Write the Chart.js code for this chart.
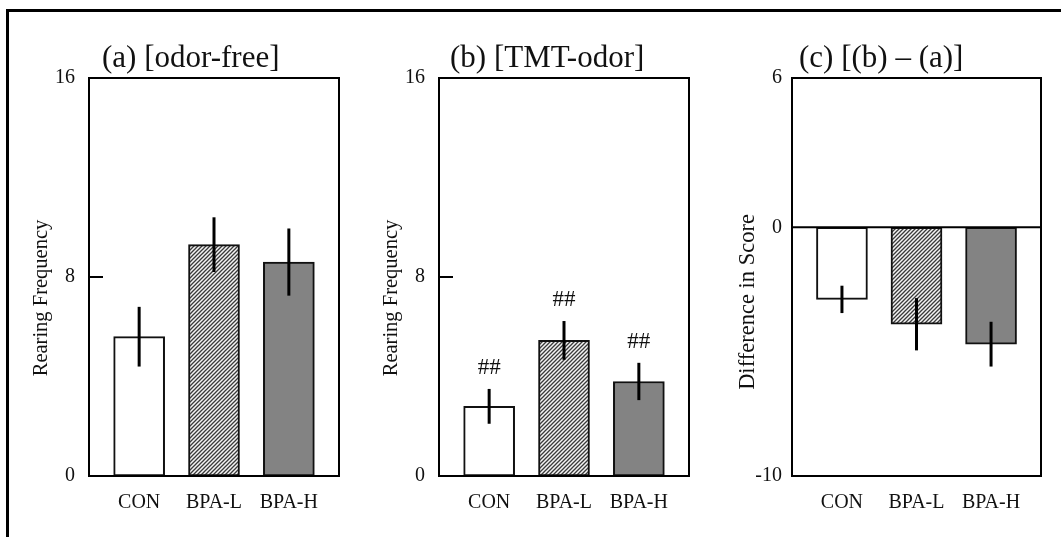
<!DOCTYPE html>
<html><head><meta charset="utf-8">
<script src="https://cdn.jsdelivr.net/npm/chart.js@4.4.1/dist/chart.umd.min.js"></script>
<style>
html,body{margin:0;padding:0;background:#fff;}
#wrap{position:relative;width:1061px;height:537px;overflow:hidden;background:#fff;}
#frame{position:absolute;left:6px;top:9px;width:1200px;height:700px;border-left:3px solid #000;border-top:3px solid #000;}
canvas{position:absolute;left:0;top:0;}
</style></head><body>
<div id="wrap"><div id="frame"></div>
<canvas id="ca" width="1061" height="537"></canvas>
<canvas id="cb" width="1061" height="537"></canvas>
<canvas id="cc" width="1061" height="537"></canvas>
</div>
<script>
const categories = ['CON', 'BPA-L', 'BPA-H'];
const odorFree = [5.6, 9.3, 8.6];
const odorFreeErr = [1.2, 1.1, 1.35];
const tmtOdor = [2.8, 5.45, 3.8];
const tmtOdorErr = [0.7, 0.78, 0.75];
const diffScore = [-2.9, -3.9, -4.7];
const diffScoreErr = [0.55, 1.05, 0.9];
const marksB = ['##', '##', '##'];
const ticksRearing = [0, 8, 16];
const ticksDiff = [-10, 0, 6];
const panelTitles = ['(a) [odor-free]', '(b) [TMT-odor]', '(c) [(b) \u2013 (a)]'];
const yTitles = ['Rearing Frequency', 'Rearing Frequency', 'Difference in Score'];

const SERIF = '"Liberation Serif", "Times New Roman", serif';

function hatch() {
  const c = document.createElement('canvas');
  c.width = 4; c.height = 4;
  const g = c.getContext('2d');
  g.fillStyle = '#f4f4f4'; g.fillRect(0, 0, 4, 4);
  g.strokeStyle = '#3a3a3a'; g.lineWidth = 1.3;
  g.beginPath();
  g.moveTo(-1, 5); g.lineTo(5, -1);
  g.moveTo(-1, 1); g.lineTo(1, -1);
  g.moveTo(3, 5); g.lineTo(5, 3);
  g.stroke();
  return g.createPattern(c, 'repeat');
}
const fills = ['#ffffff', hatch(), '#838383'];

const deco = {
  id: 'deco',
  afterDatasetsDraw(chart, args, o) {
    const {ctx, chartArea: a, scales: {x, y}} = chart;
    ctx.save();
    ctx.strokeStyle = '#000'; ctx.fillStyle = '#111';
    if (o.zeroLine) {
      const pz = y.getPixelForValue(0);
      ctx.lineWidth = 2;
      ctx.beginPath(); ctx.moveTo(a.left, pz); ctx.lineTo(a.right, pz); ctx.stroke();
    }
    ctx.lineWidth = 3;
    o.values.forEach((v, i) => {
      const px = x.getPixelForValue(i);
      ctx.beginPath();
      ctx.moveTo(px, y.getPixelForValue(v + o.err[i]));
      ctx.lineTo(px, y.getPixelForValue(v - o.err[i]));
      ctx.stroke();
    });
    if (o.marks) {
      ctx.font = '23px ' + SERIF; ctx.textAlign = 'center'; ctx.textBaseline = 'middle';
      o.marks.forEach((m, i) => {
        const px = x.getPixelForValue(i);
        ctx.fillText(m, px, y.getPixelForValue(o.values[i] + o.err[i]) - 21);
      });
    }
    ctx.lineWidth = 2;
    ctx.strokeRect(a.left, a.top, a.right - a.left, a.bottom - a.top);
    (o.innerTicks || []).forEach(t => {
      const py = y.getPixelForValue(t);
      ctx.beginPath(); ctx.moveTo(a.left, py); ctx.lineTo(a.left + 14, py); ctx.stroke();
    });
    ctx.font = '31px ' + SERIF; ctx.textAlign = 'left'; ctx.textBaseline = 'alphabetic';
    ctx.fillText(o.title, a.left + o.titleDx, a.top - 11);
    ctx.translate(o.ylx, o.yly); ctx.rotate(-Math.PI / 2);
    ctx.font = o.ylFont + 'px ' + SERIF; ctx.textAlign = 'center'; ctx.textBaseline = 'middle';
    ctx.fillText(o.yTitle, 0, 0);
    ctx.restore();
  }
};

function makePanel(id, values, err, left, right, ymin, ymax, yticks, deco_opts, tickPad) {
  return new Chart(document.getElementById(id), {
    type: 'bar',
    data: {
      datasets: [{
        data: values.map((v, i) => ({x: i, y: v})),
        backgroundColor: fills,
        borderColor: '#111',
        borderWidth: 2,
        borderSkipped: false,
        barThickness: 51
      }]
    },
    options: {
      responsive: false, animation: false,
      layout: {padding: {left: left - 60, right: 1061 - right, top: 78, bottom: 21}},
      plugins: {legend: {display: false}, tooltip: {enabled: false}, deco: deco_opts},
      scales: {
        x: {
          type: 'linear', min: -0.67, max: 2.67, offset: false,
          grid: {display: false, drawTicks: false, offset: false}, border: {display: false},
          afterBuildTicks: s => { s.ticks = categories.map((c, i) => ({value: i})); },
          afterFit: s => { s.height = 40; },
          ticks: {padding: 15, color: '#111', font: {family: SERIF, size: 20},
                  callback: v => categories[v]}
        },
        y: {
          min: ymin, max: ymax,
          grid: {display: false, drawTicks: false}, border: {display: false},
          afterBuildTicks: s => { s.ticks = yticks.map(v => ({value: v})); },
          afterFit: s => { s.width = 60; },
          ticks: {padding: tickPad, color: '#111', font: {family: SERIF, size: 20}}
        }
      }
    },
    plugins: [deco]
  });
}

makePanel('ca', odorFree, odorFreeErr, 89, 339, 0, 16, ticksRearing,
  {values: odorFree, err: odorFreeErr, innerTicks: [8], title: panelTitles[0], titleDx: 13,
   yTitle: yTitles[0], ylx: 42, yly: 298, ylFont: 20.5}, 14);
makePanel('cb', tmtOdor, tmtOdorErr, 439, 689, 0, 16, ticksRearing,
  {values: tmtOdor, err: tmtOdorErr, innerTicks: [8], marks: marksB, title: panelTitles[1], titleDx: 11,
   yTitle: yTitles[1], ylx: 392, yly: 298, ylFont: 20.5}, 14);
makePanel('cc', diffScore, diffScoreErr, 792, 1041, -10, 6, ticksDiff,
  {values: diffScore, err: diffScoreErr, zeroLine: true, title: panelTitles[2], titleDx: 7,
   yTitle: yTitles[2], ylx: 748, yly: 302, ylFont: 22.5}, 10);
</script>
</body></html>
